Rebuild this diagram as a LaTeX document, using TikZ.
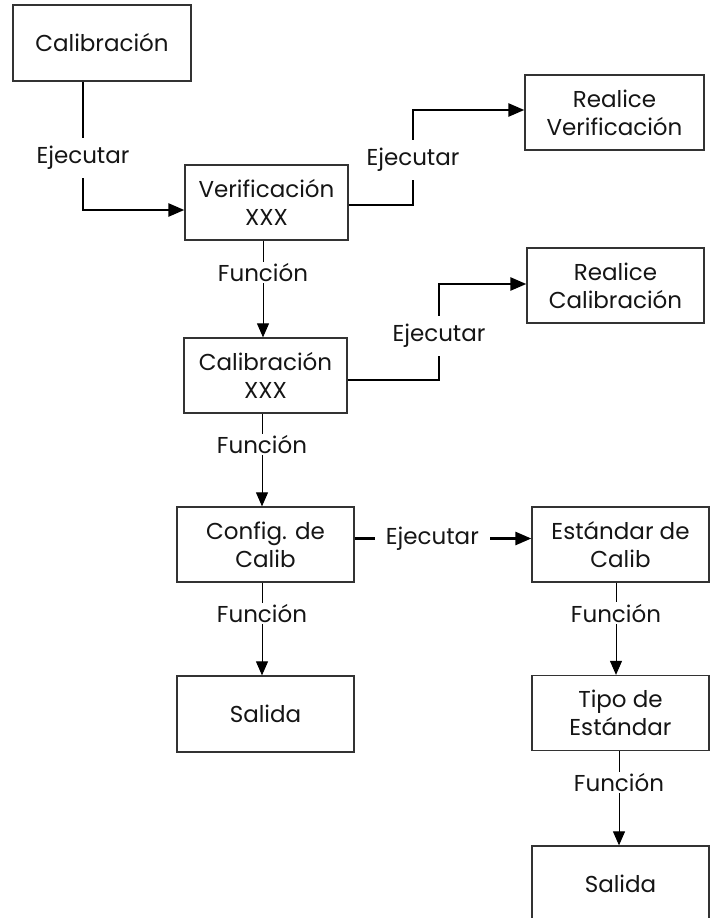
\documentclass[tikz,border=0pt]{standalone}
\usepackage{fontspec}
\setmainfont{Poppins}
\usetikzlibrary{arrows.meta,calc}
\definecolor{txt}{HTML}{151515}
\definecolor{brd}{HTML}{333333}
\begin{document}
\begin{tikzpicture}[x=1pt,y=-1pt,
  box/.style={draw=brd,line width=1.3pt,fill=white,align=center,text=txt,
    font=\fontsize{23}{28}\selectfont,inner sep=0pt,
    minimum width=177pt,minimum height=75pt},
  thickc/.style={line width=2.6pt,-{Triangle[length=16pt,width=13pt]}},
  thinc/.style={line width=1pt,-{Triangle[length=14pt,width=12pt]}},
  elbl/.style={fill=white,text=txt,font=\fontsize{23}{27}\selectfont,inner xsep=11pt,inner ysep=8pt},
  flbl/.style={fill=white,text=txt,font=\fontsize{23}{27}\selectfont,inner xsep=1pt,inner ysep=1.5pt}]
\clip (0,0) rectangle (715,918);
\fill[white] (0,0) rectangle (715,918);
% boxes
\node[box,minimum width=178pt,minimum height=76pt] (cal) at (102,43) {Calibración};
\node[box,minimum width=163pt] (ver) at (266.5,202.5) {Verificación\\XXX};
\node[box,minimum width=179pt] (rv) at (614.5,112.5) {Realice\\Verificación};
\node[box,minimum width=163pt] (calx) at (265.5,375.5) {Calibración\\XXX};
\node[box] (rc) at (615.5,285.5) {Realice\\Calibración};
\node[box] (cfg) at (265.5,544.5) {Config. de\\Calib};
\node[box] (est) at (620.5,544.5) {Estándar de\\Calib};
\node[box,minimum height=76pt] (sal1) at (265.5,714) {Salida};
\node[box] (tipo) at (620.5,713) {Tipo de\\Estándar};
\node[box] (sal2) at (620.5,883.5) {Salida};
% Ejecutar connectors
\draw[thickc] ([xshift=-19pt]cal.south) -- ([xshift=-19pt]cal.south |- 0,158) node[elbl] {Ejecutar}
  |- ([yshift=-7.5pt]ver.west);
\draw[thickc] ([yshift=-2.5pt]ver.east) -| (413,160) node[elbl] {Ejecutar} |- ([yshift=2.5pt]rv.west);
\draw[thickc] ([yshift=-4.5pt]calx.east) -| (439,336) node[elbl] {Ejecutar} |- ([yshift=1.5pt]rc.west);
\draw[thickc] ([yshift=6pt]cfg.east) -- node[elbl,pos=0.44] {Ejecutar} ([yshift=6pt]est.west);
% Funcion connectors
\draw[thinc] ([xshift=-3.5pt]ver.south) -- node[flbl,pos=0.33] {Función} ([xshift=-3.5pt]ver.south |- calx.north);
\draw[thinc] ([xshift=-3.5pt]calx.south) -- node[flbl,pos=0.33] {Función} ([xshift=-3.5pt]calx.south |- cfg.north);
\draw[thinc] ([xshift=-3.5pt]cfg.south) -- node[flbl,pos=0.33] {Función} ([xshift=-3.5pt]cfg.south |- sal1.north);
\draw[thinc] ([xshift=-4.5pt]est.south) -- node[flbl,pos=0.33] {Función} ([xshift=-4.5pt]est.south |- tipo.north);
\draw[thinc] ([xshift=-1.5pt]tipo.south) -- node[flbl,pos=0.33] {Función} ([xshift=-1.5pt]tipo.south |- sal2.north);
\end{tikzpicture}
\end{document}
